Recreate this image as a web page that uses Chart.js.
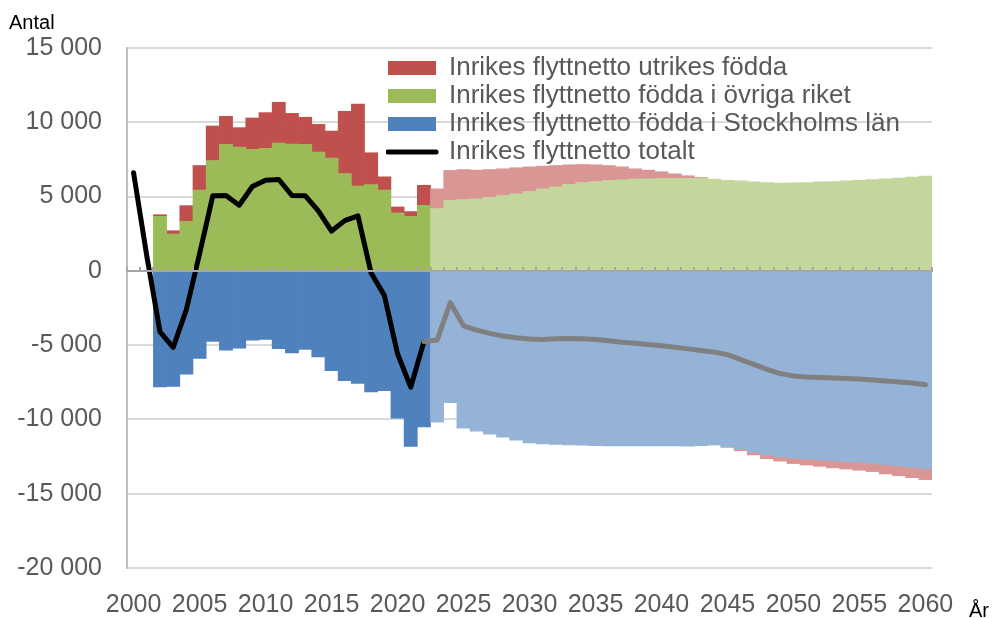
<!DOCTYPE html>
<html lang="sv">
<head>
<meta charset="utf-8">
<title>Inrikes flyttnetto</title>
<script src="https://cdn.jsdelivr.net/npm/chart.js@4.4.1/dist/chart.umd.min.js"></script>
<style>
    html, body { margin: 0; padding: 0; background: #ffffff; }
    #wrap { position: relative; width: 992px; height: 618px; }
</style>
</head>
<body>
<div id="wrap"><canvas id="flyttChart"></canvas></div>
<script>
/* ========================================
   Inrikes flyttnetto 2000-2060
   ======================================== */

const years = [];
for (let y = 2000; y <= 2060; y++) years.push(String(y));

const lastOutcomeIndex = 22; // 2022, after that projection

// 2000-2060
const stockholmBorn = [
    null, null,
    -7820, -7770, -6960, -5900, -4750, -5340, -5200, -4660, -4620, -5230,
    -5520, -5290, -5790, -6710, -7390, -7570, -8150, -8060, -9910, -11820, -10500,
    -10180, -8870, -10590, -10790, -10990, -11200, -11400, -11580, -11650, -11690,
    -11720, -11740, -11760, -11780, -11780, -11780, -11780, -11780, -11790, -11800,
    -11760, -11710, -11850, -11980, -12210, -12390, -12520, -12610, -12660, -12730,
    -12790, -12840, -12880, -12950, -13040, -13130, -13220, -13330
];

const restOfCountryBorn = [
    null, null,
    3670, 2480, 3330, 5430, 7430, 8510, 8330, 8180, 8240, 8600,
    8540, 8510, 8000, 7590, 6550, 5700, 5810, 5430, 3900, 3670, 4410,
    4190, 4750, 4800, 4840, 4950, 5070, 5180, 5340, 5520, 5650,
    5830, 5950, 6010, 6080, 6130, 6170, 6200, 6220, 6220, 6220,
    6240, 6170, 6100, 6060, 5990, 5950, 5900, 5920, 5950, 5990,
    6010, 6060, 6100, 6150, 6200, 6240, 6310, 6380
];

const foreignBorn = [
    null, null,
    110, 220, 1060, 1660, 2320, 1890, 1310, 2110, 2410, 2750,
    2060, 1830, 1860, 1820, 4190, 5520, 2140, 900, 400, 320, 1350,
    1330, 2010, 2020, 1940, 1870, 1800, 1760, 1660, 1530, 1440,
    1310, 1210, 1130, 1010, 870, 700, 580, 450, 310, 180,
    50, 0, -30, -130, -180, -250, -290, -360, -410, -430,
    -470, -500, -540, -560, -630, -660, -700, -720
];

const totalNet = [
    6600, 1000,
    -4100, -5150, -2600, 1150, 5050, 5070, 4420, 5680, 6100, 6150,
    5070, 5060, 4030, 2680, 3380, 3700, -150, -1650, -5580, -7830, -4760,
    -4660, -2140, -3700, -3990, -4210, -4390, -4500, -4590, -4620, -4570,
    -4550, -4570, -4620, -4710, -4800, -4870, -4950, -5040, -5140, -5250,
    -5360, -5470, -5640, -5970, -6300, -6630, -6910, -7070, -7140, -7180,
    -7210, -7240, -7280, -7340, -7410, -7480, -7550, -7660
];

const yTicks = [15000, 10000, 5000, 0, -5000, -10000, -15000, -20000];

const FONT = '"Liberation Sans", Arial, sans-serif';
const TEXT_GREY = '#595959';

// dark colour for outcome, light for projection
function byPeriod(dark, light) {
    return function(ctx) {
        return ctx.dataIndex > lastOutcomeIndex ? light : dark;
    };
}

function formatThousands(value) {
    const s = String(Math.abs(value)).replace(/\B(?=(\d{3})+(?!\d))/g, ' ');
    return (value < 0 ? '-' : '') + s;
}

// move the legend box into the upper part of the plot
const legendSpot = {
    id: 'legendSpot',
    afterLayout(chart) {
        chart.legend.left = 386;
        chart.legend.top = 53;
    }
};

const axisNotes = {
    id: 'axisNotes',
    afterDraw(chart) {
        const ctx = chart.ctx;
        ctx.save();
        ctx.font = '20px ' + FONT;
        ctx.fillStyle = '#000000';
        ctx.textBaseline = 'alphabetic';
        ctx.textAlign = 'left';
        ctx.fillText('Antal', 9, 29);
        ctx.fillText('År', 969, 617);
        ctx.restore();
    }
};

document.addEventListener('DOMContentLoaded', function() {
    const ctx = document.getElementById('flyttChart');

    new Chart(ctx, {
        type: 'bar',
        data: {
            labels: years,
            datasets: [
                {
                    type: 'line',
                    label: 'Inrikes flyttnetto totalt',
                    data: totalNet,
                    stack: 'total',
                    borderColor: '#000000',
                    backgroundColor: '#000000',
                    borderWidth: 5,
                    borderJoinStyle: 'round',
                    borderCapStyle: 'round',
                    pointRadius: 0,
                    pointHoverRadius: 0,
                    pointBorderWidth: 5,
                    pointStyle: 'line',
                    tension: 0,
                    segment: {
                        borderColor: c => c.p0DataIndex >= lastOutcomeIndex ? '#808080' : '#000000'
                    }
                },
                {
                    label: 'Inrikes flyttnetto födda i Stockholms län',
                    data: stockholmBorn,
                    stack: 'flows',
                    backgroundColor: byPeriod('#4f81bd', '#95b3d7'),
                    pointStyle: 'rect'
                },
                {
                    label: 'Inrikes flyttnetto födda i övriga riket',
                    data: restOfCountryBorn,
                    stack: 'flows',
                    backgroundColor: byPeriod('#9bbb59', '#c3d69b'),
                    pointStyle: 'rect'
                },
                {
                    label: 'Inrikes flyttnetto utrikes födda',
                    data: foreignBorn,
                    stack: 'flows',
                    backgroundColor: byPeriod('#c0504d', '#d99694'),
                    pointStyle: 'rect'
                }
            ]
        },
        options: {
            responsive: true,
            maintainAspectRatio: false,
            animation: false,
            datasets: {
                bar: { barPercentage: 1, categoryPercentage: 1, borderWidth: 0 }
            },
            layout: { padding: { top: 48, right: 60, bottom: 0, left: 0 } },
            plugins: {
                tooltip: { enabled: false },
                legend: {
                    position: 'chartArea',
                    align: 'start',
                    labels: {
                        usePointStyle: true,
                        pointStyleWidth: 48,
                        boxHeight: 14,
                        padding: 2,
                        color: TEXT_GREY,
                        font: { family: FONT, size: 26 },
                        generateLabels: function(chart) {
                            return Chart.defaults.plugins.legend.labels.generateLabels(chart)
                                .map(item => Object.assign(item, { lineCap: 'round' }));
                        },
                        sort: (a, b) => b.datasetIndex - a.datasetIndex
                    }
                }
            },
            scales: {
                x: {
                    type: 'category',
                    offset: true,
                    grid: { display: false },
                    border: { display: false },
                    ticks: {
                        autoSkip: false,
                        maxRotation: 0,
                        minRotation: 0,
                        padding: 14,
                        color: TEXT_GREY,
                        font: { family: FONT, size: 25 },
                        callback: function(value, index) {
                            const label = this.getLabelForValue(value);
                            return Number(label) % 5 === 0 ? label : '';
                        }
                    },
                    afterFit: scale => { scale.height = 50; }
                },
                xZero: {
                    axis: 'x',
                    type: 'category',
                    position: { y: 0 },
                    offset: true,
                    grid: {
                        offset: true,
                        drawOnChartArea: false,
                        drawTicks: true,
                        tickLength: -5,
                        color: '#a6a6a6',
                        lineWidth: 2,
                        z: 1
                    },
                    border: { color: '#a6a6a6', width: 2, z: 1 },
                    ticks: { display: false }
                },
                y: {
                    stacked: true,
                    min: -20000,
                    max: 15000,
                    afterBuildTicks: scale => {
                        scale.ticks = yTicks.map(v => ({ value: v }));
                    },
                    grid: { color: '#d9d9d9', lineWidth: 2, drawTicks: false },
                    border: { color: '#bfbfbf', width: 2 },
                    ticks: {
                        padding: 25,
                        color: TEXT_GREY,
                        font: { family: FONT, size: 25 },
                        callback: value => formatThousands(value)
                    },
                    afterFit: scale => { scale.width = 127; }
                }
            }
        },
        plugins: [legendSpot, axisNotes]
    });
});
</script>
</body>
</html>
